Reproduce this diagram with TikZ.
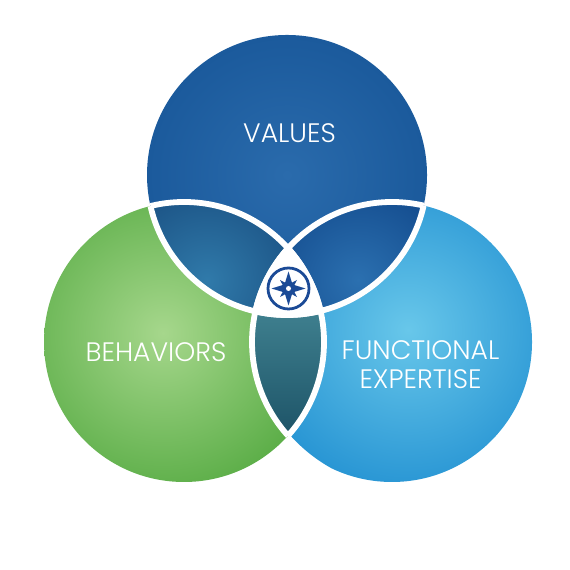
\documentclass[tikz,border=0pt]{standalone}
\usepackage{fontspec}
\setmainfont{Poppins}[UprightFont=* Light]
\definecolor{valuesin}{HTML}{2A6BAC}
\definecolor{valuesout}{HTML}{1B5A9C}
\definecolor{behavin}{HTML}{A6D78C}
\definecolor{behavout}{HTML}{5CAE48}
\definecolor{functin}{HTML}{68C7EA}
\definecolor{functout}{HTML}{2996D4}
\definecolor{leftin}{HTML}{307AAA}
\definecolor{leftout}{HTML}{1C5486}
\definecolor{rightin}{HTML}{2B70B0}
\definecolor{rightout}{HTML}{154E90}
\definecolor{lenstop}{HTML}{3F808F}
\definecolor{lensmid}{HTML}{3A7887}
\definecolor{lensbot}{HTML}{1C5266}
\definecolor{compass}{HTML}{1B4A96}
\tikzset{
  ringline/.style={draw=white, line width=0.058cm},
  circlelabel/.style={text=white, align=center, font=\fontsize{7.6}{8.2}\selectfont},
}
\begin{document}
\begin{tikzpicture}
    \useasboundingbox (0,0) rectangle (5.7,5.7);
    \coordinate (valuesc) at (2.87,3.95);
    \coordinate (behavc) at (1.84,2.28);
    \coordinate (functc) at (3.92,2.28);
    \coordinate (compassc) at (2.885,2.815);
    \def\rad{1.40}
    % the three circles
    \shade[inner color=valuesin, outer color=valuesout] (valuesc) circle (\rad);
    \begin{scope}
        \clip (behavc) circle (\rad);
        \shade[inner color=behavin, outer color=behavout] (1.63,2.37) circle (1.62);
    \end{scope}
    \begin{scope}
        \clip (functc) circle (\rad);
        \shade[inner color=functin, outer color=functout] (4.08,2.40) circle (1.58);
    \end{scope}
    % values and behaviors
    \begin{scope}
        \clip (valuesc) circle (\rad);
        \clip (behavc) circle (\rad);
        \shade[inner color=leftin, outer color=leftout] (2.07,2.90) circle (0.95);
    \end{scope}
    % values and functional expertise
    \begin{scope}
        \clip (valuesc) circle (\rad);
        \clip (functc) circle (\rad);
        \shade[inner color=rightin, outer color=rightout] (3.58,2.90) circle (0.95);
    \end{scope}
    % behaviors and functional expertise
    \begin{scope}
        \clip (behavc) circle (\rad);
        \clip (functc) circle (\rad);
        \shade[top color=lenstop, middle color=lensmid, bottom color=lensbot] (2.4,1.30) rectangle (3.4,2.60);
    \end{scope}
    % centre
    \begin{scope}
        \clip (valuesc) circle (\rad);
        \clip (behavc) circle (\rad);
        \fill[white] (functc) circle (\rad);
    \end{scope}
    % white rims, only where the circles overlap
    \foreach \ringc/\otherc in {valuesc/behavc, valuesc/functc, behavc/valuesc, behavc/functc, functc/valuesc, functc/behavc} {
        \begin{scope}
            \clip (\otherc) circle (\rad);
            \draw[ringline] (\ringc) circle (\rad);
        \end{scope}
    }
    % compass
    \draw[compass, line width=0.028cm] (compassc) circle (0.205);
    \fill[compass, shift={(compassc)}] (0,0.17) -- (0.04,0.04) -- (0.17,0) -- (0.04,-0.04) -- (0,-0.17) -- (-0.04,-0.04) -- (-0.17,0) -- (-0.04,0.04) -- cycle;
    \fill[compass, shift={(compassc)}] (0.085,0.085) -- (0.04,0) -- (0.085,-0.085) -- (0,-0.04) -- (-0.085,-0.085) -- (-0.04,0) -- (-0.085,0.085) -- (0,0.04) -- cycle;
    \fill[white] (compassc) circle (0.025);
    % labels
    \node[circlelabel] (values) at (2.895,4.37) {VALUES};
    \node[circlelabel] (behaviors) at (1.56,2.18) {BEHAVIORS};
    \node[circlelabel] (functional) at (4.205,2.055) {FUNCTIONAL\\EXPERTISE};
\end{tikzpicture}
\end{document}
